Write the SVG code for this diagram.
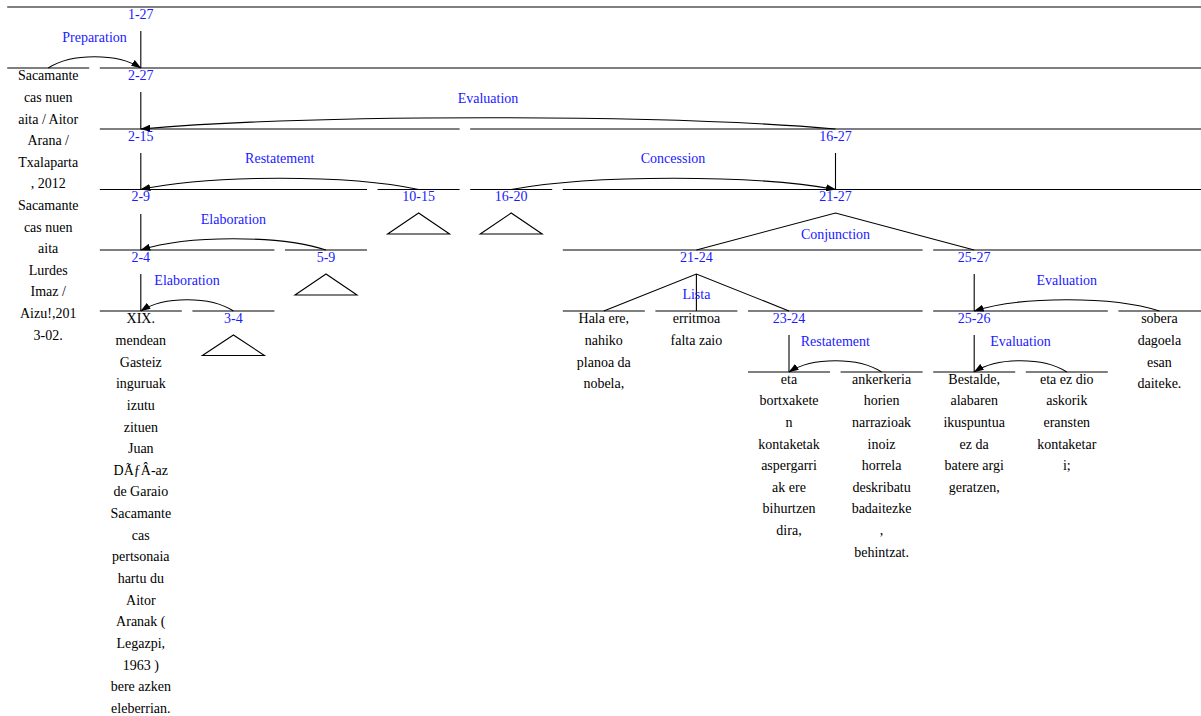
<svg xmlns="http://www.w3.org/2000/svg" width="1201" height="716" viewBox="0 0 1201 716" font-family="'Liberation Serif', serif" font-size="14">
<style>
text{font-family:'Liberation Serif',serif;font-size:14px;text-anchor:middle}
.lbl{fill:#1a1aff}
.rel{fill:#1a1aff}
.leaf{fill:#000}
line,polyline,path.arc,polygon{stroke:#000;stroke-width:1.1;fill:none}
path.arc{marker-end:url(#ah)}
</style>
<defs>
<marker id="ah" markerUnits="userSpaceOnUse" markerWidth="10" markerHeight="7" refX="9.5" refY="3.5" orient="auto">
<path d="M0,0 L10,3.5 L0,7 z" fill="#000"/>
</marker>
</defs>
<rect width="1201" height="716" fill="#fff"/>
<g id="connectors">
<line x1="7.2" y1="7" x2="1201" y2="7"/>
<line x1="7.2" y1="68" x2="89.2" y2="68"/>
<line x1="99.8" y1="68" x2="1201" y2="68"/>
<line x1="99.8" y1="129" x2="459.6" y2="129"/>
<line x1="470.2" y1="129" x2="1201" y2="129"/>
<line x1="99.8" y1="189.5" x2="367" y2="189.5"/>
<line x1="377.6" y1="189.5" x2="459.6" y2="189.5"/>
<line x1="470.2" y1="189.5" x2="552.2" y2="189.5"/>
<line x1="562.8" y1="189.5" x2="1201" y2="189.5"/>
<line x1="99.8" y1="250" x2="274.4" y2="250"/>
<line x1="285" y1="250" x2="367" y2="250"/>
<line x1="562.8" y1="250" x2="922.6" y2="250"/>
<line x1="933.2" y1="250" x2="1201" y2="250"/>
<line x1="99.8" y1="311" x2="181.8" y2="311"/>
<line x1="192.4" y1="311" x2="274.4" y2="311"/>
<line x1="562.8" y1="311" x2="644.8" y2="311"/>
<line x1="655.4" y1="311" x2="737.4" y2="311"/>
<line x1="748" y1="311" x2="922.6" y2="311"/>
<line x1="933.2" y1="311" x2="1107.8" y2="311"/>
<line x1="1118.4" y1="311" x2="1201" y2="311"/>
<line x1="748" y1="372" x2="830" y2="372"/>
<line x1="840.6" y1="372" x2="922.6" y2="372"/>
<line x1="933.2" y1="372" x2="1015.2" y2="372"/>
<line x1="1025.8" y1="372" x2="1107.8" y2="372"/>
<line x1="140.8" y1="31" x2="140.8" y2="68"/>
<line x1="140.8" y1="92" x2="140.8" y2="129"/>
<line x1="140.8" y1="153" x2="140.8" y2="189.5"/>
<line x1="835.5" y1="153" x2="835.5" y2="189.5"/>
<line x1="140.8" y1="214" x2="140.8" y2="250"/>
<line x1="140.8" y1="274" x2="140.8" y2="311"/>
<line x1="974.2" y1="274" x2="974.2" y2="311"/>
<line x1="789" y1="335" x2="789" y2="372"/>
<line x1="974.2" y1="335" x2="974.2" y2="372"/>
<polyline points="696.4,250 835.5,213 974.2,250"/>
<polyline points="603.8,311 696.4,274 789,311"/>
<line x1="696.4" y1="274" x2="696.4" y2="311"/>
<polygon points="418.6,213 387.6,234 449.6,234"/>
<polygon points="511.2,213 480.2,234 542.2,234"/>
<polygon points="326,274 295,295 357,295"/>
<polygon points="233.4,335 202.4,355.5 264.4,355.5"/>
<path class="arc" d="M48.2,68 C71.4,53 117.6,53 140.8,68"/>
<path class="arc" d="M835.5,129 C661.8,114 314.5,114 140.8,129"/>
<path class="arc" d="M418.6,189.5 C349.1,174.5 210.3,174.5 140.8,189.5"/>
<path class="arc" d="M511.2,189.5 C592.3,174.5 754.4,174.5 835.5,189.5"/>
<path class="arc" d="M326,250 C279.7,235 187.1,235 140.8,250"/>
<path class="arc" d="M233.4,311 C210.3,296 163.9,296 140.8,311"/>
<path class="arc" d="M881.6,372 C858.5,357 812.2,357 789,372"/>
<path class="arc" d="M1159.4,311 C1113.1,296 1020.5,296 974.2,311"/>
<path class="arc" d="M1066.8,372 C1043.7,357 997.3,357 974.2,372"/>
</g>
<g id="relation-labels">
<text class="rel" x="94.5" y="41.5">Preparation</text>
<text class="rel" x="488" y="102.5">Evaluation</text>
<text class="rel" x="279.7" y="163">Restatement</text>
<text class="rel" x="673" y="163">Concession</text>
<text class="rel" x="233.4" y="223.5">Elaboration</text>
<text class="rel" x="835.5" y="238.5">Conjunction</text>
<text class="rel" x="187" y="284.5">Elaboration</text>
<text class="rel" x="696.4" y="299">Lista</text>
<text class="rel" x="835.3" y="345.5">Restatement</text>
<text class="rel" x="1066.8" y="284.5">Evaluation</text>
<text class="rel" x="1020.5" y="345.5">Evaluation</text>
</g>
<g id="n1-27"><text class="lbl" x="140.8" y="19">1-27</text></g>
<g id="n2-27"><text class="lbl" x="140.8" y="79.5">2-27</text></g>
<g id="n2-15"><text class="lbl" x="140.8" y="140.5">2-15</text></g>
<g id="n16-27"><text class="lbl" x="835.5" y="140.5">16-27</text></g>
<g id="n2-9"><text class="lbl" x="140.8" y="201">2-9</text></g>
<g id="n10-15"><text class="lbl" x="418.6" y="201">10-15</text></g>
<g id="n16-20"><text class="lbl" x="511.2" y="201">16-20</text></g>
<g id="n21-27"><text class="lbl" x="835.5" y="201">21-27</text></g>
<g id="n2-4"><text class="lbl" x="140.8" y="261.5">2-4</text></g>
<g id="n5-9"><text class="lbl" x="326" y="261.5">5-9</text></g>
<g id="n21-24"><text class="lbl" x="696.4" y="261.5">21-24</text></g>
<g id="n25-27"><text class="lbl" x="974.2" y="261.5">25-27</text></g>
<g id="n3-4"><text class="lbl" x="233.4" y="322.5">3-4</text></g>
<g id="n23-24"><text class="lbl" x="789" y="322.5">23-24</text></g>
<g id="n25-26"><text class="lbl" x="974.2" y="322.5">25-26</text></g>
<g id="leaf1"><text class="leaf" x="48.2" y="80.3"><tspan x="48.2">Sacamante</tspan><tspan x="48.2" dy="21.6">cas nuen</tspan><tspan x="48.2" dy="21.6">aita / Aitor</tspan><tspan x="48.2" dy="21.6">Arana /</tspan><tspan x="48.2" dy="21.6">Txalaparta</tspan><tspan x="48.2" dy="21.6">, 2012</tspan><tspan x="48.2" dy="21.6">Sacamante</tspan><tspan x="48.2" dy="21.6">cas nuen</tspan><tspan x="48.2" dy="21.6">aita</tspan><tspan x="48.2" dy="21.6">Lurdes</tspan><tspan x="48.2" dy="21.6">Imaz /</tspan><tspan x="48.2" dy="21.6">Aizu!,201</tspan><tspan x="48.2" dy="21.6">3-02.</tspan></text></g>
<g id="leaf2"><text class="leaf" x="140.8" y="323.3"><tspan x="140.8">XIX.</tspan><tspan x="140.8" dy="21.65">mendean</tspan><tspan x="140.8" dy="21.65">Gasteiz</tspan><tspan x="140.8" dy="21.65">inguruak</tspan><tspan x="140.8" dy="21.65">izutu</tspan><tspan x="140.8" dy="21.65">zituen</tspan><tspan x="140.8" dy="21.65">Juan</tspan><tspan x="140.8" dy="21.65">DÃƒÂ-az</tspan><tspan x="140.8" dy="21.65">de Garaio</tspan><tspan x="140.8" dy="21.65">Sacamante</tspan><tspan x="140.8" dy="21.65">cas</tspan><tspan x="140.8" dy="21.65">pertsonaia</tspan><tspan x="140.8" dy="21.65">hartu du</tspan><tspan x="140.8" dy="21.65">Aitor</tspan><tspan x="140.8" dy="21.65">Aranak (</tspan><tspan x="140.8" dy="21.65">Legazpi,</tspan><tspan x="140.8" dy="21.65">1963 )</tspan><tspan x="140.8" dy="21.65">bere azken</tspan><tspan x="140.8" dy="21.65">eleberrian.</tspan></text></g>
<g id="leaf21"><text class="leaf" x="603.8" y="323.3"><tspan x="603.8">Hala ere,</tspan><tspan x="603.8" dy="21.6">nahiko</tspan><tspan x="603.8" dy="21.6">planoa da</tspan><tspan x="603.8" dy="21.6">nobela,</tspan></text></g>
<g id="leaf22"><text class="leaf" x="696.4" y="323.3"><tspan x="696.4">erritmoa</tspan><tspan x="696.4" dy="21.6">falta zaio</tspan></text></g>
<g id="leaf23"><text class="leaf" x="789" y="383.8"><tspan x="789">eta</tspan><tspan x="789" dy="21.6">bortxakete</tspan><tspan x="789" dy="21.6">n</tspan><tspan x="789" dy="21.6">kontaketak</tspan><tspan x="789" dy="21.6">aspergarri</tspan><tspan x="789" dy="21.6">ak ere</tspan><tspan x="789" dy="21.6">bihurtzen</tspan><tspan x="789" dy="21.6">dira,</tspan></text></g>
<g id="leaf24"><text class="leaf" x="881.6" y="383.8"><tspan x="881.6">ankerkeria</tspan><tspan x="881.6" dy="21.6">horien</tspan><tspan x="881.6" dy="21.6">narrazioak</tspan><tspan x="881.6" dy="21.6">inoiz</tspan><tspan x="881.6" dy="21.6">horrela</tspan><tspan x="881.6" dy="21.6">deskribatu</tspan><tspan x="881.6" dy="21.6">badaitezke</tspan><tspan x="881.6" dy="21.6">,</tspan><tspan x="881.6" dy="21.6">behintzat.</tspan></text></g>
<g id="leaf25"><text class="leaf" x="974.2" y="383.8"><tspan x="974.2">Bestalde,</tspan><tspan x="974.2" dy="21.6">alabaren</tspan><tspan x="974.2" dy="21.6">ikuspuntua</tspan><tspan x="974.2" dy="21.6">ez da</tspan><tspan x="974.2" dy="21.6">batere argi</tspan><tspan x="974.2" dy="21.6">geratzen,</tspan></text></g>
<g id="leaf26"><text class="leaf" x="1066.8" y="383.8"><tspan x="1066.8">eta ez dio</tspan><tspan x="1066.8" dy="21.6">askorik</tspan><tspan x="1066.8" dy="21.6">eransten</tspan><tspan x="1066.8" dy="21.6">kontaketar</tspan><tspan x="1066.8" dy="21.6">i;</tspan></text></g>
<g id="leaf27"><text class="leaf" x="1159.4" y="323.3"><tspan x="1159.4">sobera</tspan><tspan x="1159.4" dy="21.6">dagoela</tspan><tspan x="1159.4" dy="21.6">esan</tspan><tspan x="1159.4" dy="21.6">daiteke.</tspan></text></g>
</svg>
